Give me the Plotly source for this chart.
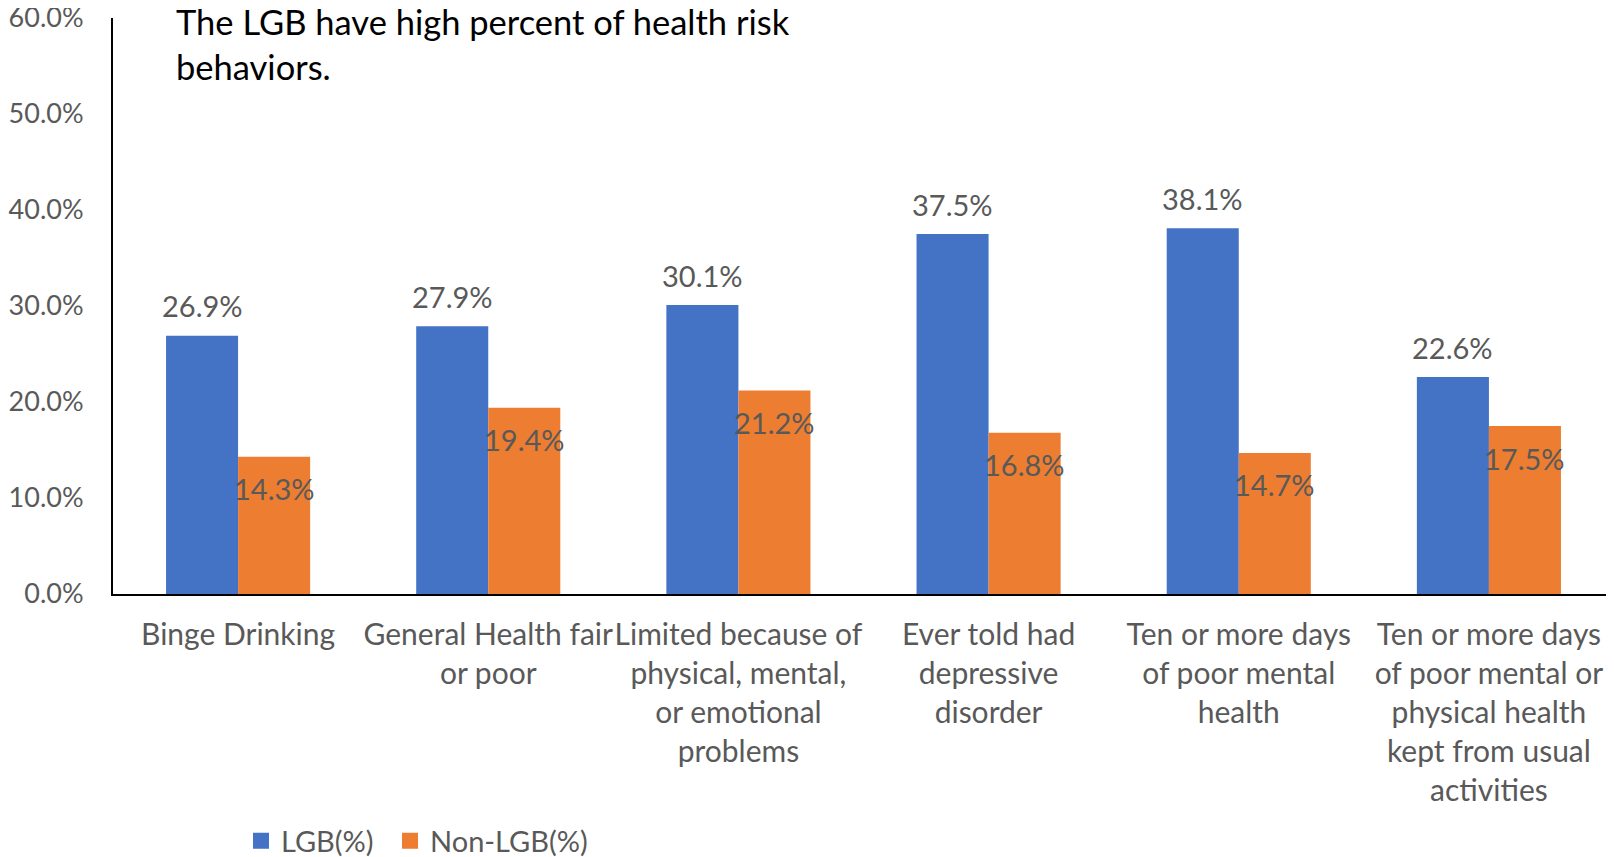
import plotly.graph_objects as go

categories = [
    "Binge Drinking",
    "General Health fair<br>or poor",
    "Limited because of<br>physical, mental,<br>or emotional<br>problems",
    "Ever told had<br>depressive<br>disorder",
    "Ten or more days<br>of poor mental<br>health",
    "Ten or more days<br>of poor mental or<br>physical health<br>kept from usual<br>activities",
]
lgb = [26.9, 27.9, 30.1, 37.5, 38.1, 22.6]
non_lgb = [14.3, 19.4, 21.2, 16.8, 14.7, 17.5]
y_ticks = [0, 10, 20, 30, 40, 50, 60]

BLUE = "#4472C4"
ORANGE = "#ED7D31"
GREY = "#595959"
FONT = "Lato, sans-serif"

# the page body has an 8px margin, so the figure is sized to fill the rest
W, H = 1606, 849
M = dict(l=105, r=0, t=10, b=263)
PLOT_H = H - M["t"] - M["b"]
PLOT_W = W - M["l"] - M["r"]
BARGAP = 0.424
half_bar = (1 - BARGAP) / 4  # offset of each bar centre from category centre

fig = go.Figure()
fig.add_bar(x=categories, y=lgb, name="LGB(%)", marker_color=BLUE,
            marker_line_width=0, showlegend=False)
fig.add_bar(x=categories, y=non_lgb, name="Non-LGB(%)", marker_color=ORANGE,
            marker_line_width=0, showlegend=False)

# legend entries with larger square swatches, one legend box each
for name, col, leg in [("LGB(%)", BLUE, "legend"), ("Non-LGB(%)", ORANGE, "legend2")]:
    fig.add_scatter(x=[None], y=[None], mode="markers", name=name, legend=leg,
                    marker=dict(symbol="square", size=16, color=col))

# data labels: LGB above bar, Non-LGB just under the top of the bar
for i, v in enumerate(lgb):
    fig.add_annotation(x=i - half_bar, y=v, text=f"{v:.1f}%", showarrow=False,
                       yshift=30, font=dict(family=FONT, size=29, color=GREY))
for i, v in enumerate(non_lgb):
    fig.add_annotation(x=i + half_bar, y=v, text=f"{v:.1f}%", showarrow=False,
                       yshift=-32, font=dict(family=FONT, size=29, color=GREY))

# chart title inside the plot area
fig.add_annotation(
    text="The LGB have high percent of health risk<br>behaviors.",
    xref="paper", yref="paper",
    x=(166 - M["l"]) / PLOT_W, xanchor="left",
    y=1 - 26 / PLOT_H, yanchor="middle", align="left",
    showarrow=False, font=dict(family=FONT, size=34.5, color="black"),
)

legend_style = dict(orientation="h", xref="container", yref="container",
                    xanchor="left", y=16 / H, yanchor="middle",
                    font=dict(size=29, color=GREY), itemsizing="trace")

fig.update_layout(
    width=W, height=H,
    margin=M,
    paper_bgcolor="white", plot_bgcolor="white",
    barmode="group", bargap=BARGAP, bargroupgap=0,
    font=dict(family=FONT, size=29, color=GREY),
    xaxis=dict(showline=True, linecolor="black", linewidth=2, ticks="",
               showgrid=False, automargin=False, ticklabelstandoff=13,
               tickangle=0, tickfont=dict(size=30, color=GREY)),
    yaxis=dict(range=[0, 60], tickvals=y_ticks,
               ticktext=[f"{t:.1f}%" for t in y_ticks],
               showline=True, linecolor="black", linewidth=2, ticks="",
               showgrid=False, zeroline=False, automargin=False,
               ticklabelstandoff=22, ticklabeloverflow="allow",
               tickfont=dict(size=27, color=GREY)),
    legend=dict(x=233 / W, **legend_style),
    legend2=dict(x=382 / W, **legend_style),
    showlegend=True,
)

fig.write_html("out.html")
